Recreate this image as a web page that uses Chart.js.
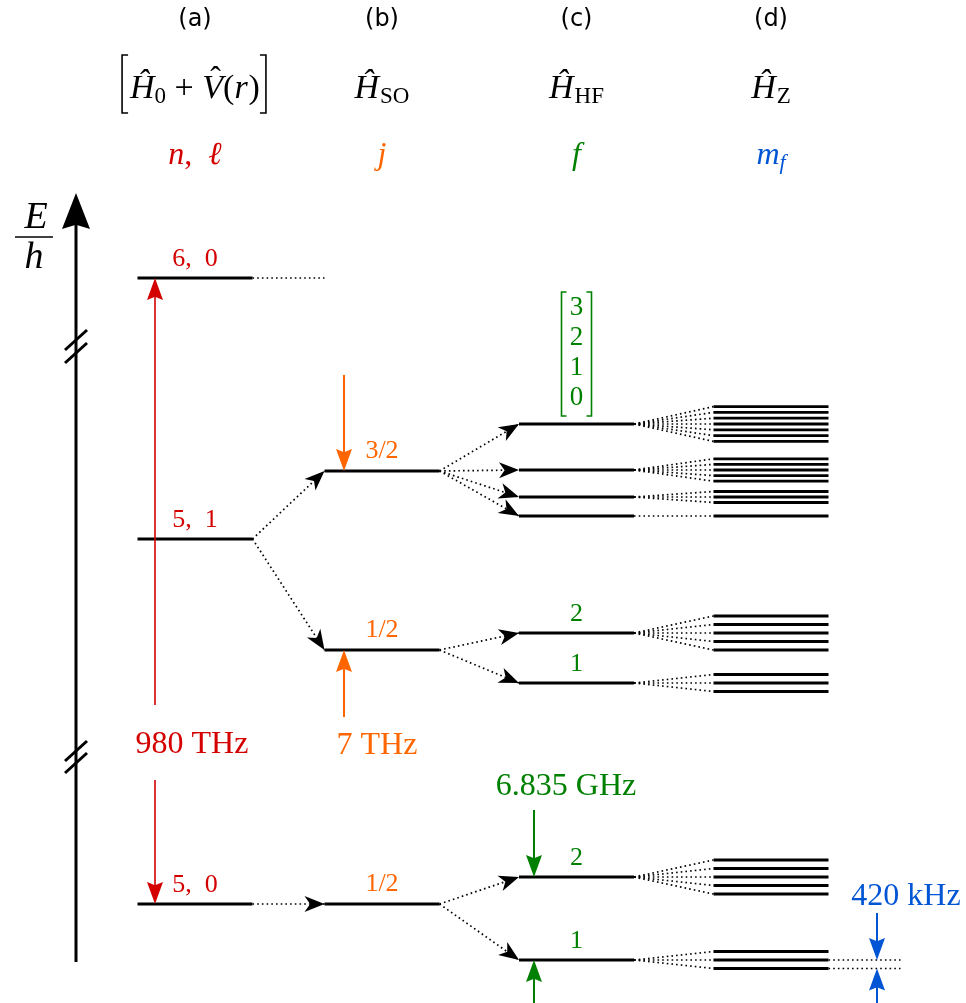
<!DOCTYPE html>
<html><head><meta charset="utf-8">
<script src="https://cdn.jsdelivr.net/npm/chart.js@4"></script>
<style>html,body{margin:0;padding:0;background:#fff}#wrap{width:966px;height:1003px;position:relative}</style>
</head><body><div id="wrap"><canvas id="c"></canvas></div>
<script>
// ---------------- data ----------------
const columnTags = ['(a)', '(b)', '(c)', '(d)'];
const nlLabels = ['6, 0', '5, 1', '5, 0'];
const nlEnergy = [725, 464, 99];
const jLabels = ['3/2', '1/2', '1/2'];
const jEnergy = [532, 353, 99];
const jParent = [1, 1, 2];
const fValues = [3, 2, 1, 0, 2, 1, 2, 1];
const fEnergy = [579, 533, 506, 487, 370, 320, 126, 43];
const fParent = [0, 0, 0, 0, 1, 1, 2, 2];
const mfSpacing = [5.8, 5.6, 5.5, 0, 8.5, 8.5, 8.5, 8.5];
const splitLabels = ['980 THz', '7 THz', '6.835 GHz', '420 kHz'];
const axisBreaks = [[663, 650], [252, 240]];

// ---------------- layout / style ----------------
const COL_X = [195, 382, 576.5, 771];
const HALF = 57.5;
const SERIF = '"Liberation Serif","DejaVu Serif",serif';
const SANS = '"DejaVu Sans",sans-serif';
const RED = '#d40000', ORANGE = '#ff6600', GREEN = '#008000', BLUE = '#0055d4';

const levelSeg = (col, e) => [{x: COL_X[col] - HALF, y: e}, {x: COL_X[col] + HALF, y: e}];
const solid = (data, w) => ({data, showLine: true, borderColor: '#000', borderWidth: w || 3, pointRadius: 0, clip: false, borderCapStyle: 'butt'});
const dotted = data => ({data, showLine: true, borderColor: '#000', borderWidth: 1.7, borderDash: [1.6, 3.1], pointRadius: 0, clip: false});

const datasets = [];
const connectors = [];
nlEnergy.forEach(e => datasets.push(solid(levelSeg(0, e))));
jEnergy.forEach(e => datasets.push(solid(levelSeg(1, e))));
fEnergy.forEach(e => datasets.push(solid(levelSeg(2, e))));
const mfLevels = [];
fValues.forEach((F, k) => {
  for (let m = F; m >= -F; m--) {
    const e = fEnergy[k] + m * mfSpacing[k];
    mfLevels.push({k, m, e});
    datasets.push(solid(levelSeg(3, e), 2.8));
  }
});
datasets.push(dotted([{x: COL_X[0] + HALF, y: nlEnergy[0]}, {x: COL_X[1] - HALF, y: nlEnergy[0]}]));
jEnergy.forEach((e, i) => {
  const p = [{x: COL_X[0] + HALF, y: nlEnergy[jParent[i]]}, {x: COL_X[1] - HALF, y: e}];
  datasets.push(dotted(p)); connectors.push(p);
});
fEnergy.forEach((e, k) => {
  const p = [{x: COL_X[1] + HALF, y: jEnergy[fParent[k]]}, {x: COL_X[2] - HALF, y: e}];
  datasets.push(dotted(p)); connectors.push(p);
});
mfLevels.forEach(l => datasets.push(dotted([{x: COL_X[2] + HALF, y: fEnergy[l.k]}, {x: COL_X[3] - HALF, y: l.e}])));
const last = fValues.length - 1;
const zeemanPair = [0, -1].map(m => fEnergy[last] + m * mfSpacing[last]);
zeemanPair.forEach(e => datasets.push(dotted([{x: COL_X[3] + HALF, y: e}, {x: COL_X[3] + HALF + 72, y: e}])));

// colored splitting arrows: x, color, label position, arrows [from, to]
const splitArrows = [
  {x: 155, color: RED, lw: 1.6, lx: 192, ly: 258, arrows: [[298, nlEnergy[0]], [223, nlEnergy[2]]]},
  {x: 344, color: ORANGE, lw: 2, lx: 377, ly: 257, arrows: [[628, jEnergy[0]], [286, jEnergy[1]]]},
  {x: 534, color: GREEN, lw: 2, lx: 566, ly: 216, arrows: [[193, fEnergy[6]], [-20, fEnergy[7]]]},
  {x: 877, color: BLUE, lw: 2, lx: 906, ly: 106, arrows: [[90, zeemanPair[0]], [-20, zeemanPair[1]]]}
];

function head(ctx, x1, y1, x2, y2, len, hw, color, indent) {
  const a = Math.atan2(y2 - y1, x2 - x1), c = Math.cos(a), s = Math.sin(a);
  ctx.save(); ctx.fillStyle = color; ctx.beginPath();
  ctx.moveTo(x2, y2);
  ctx.lineTo(x2 - len * c - hw * s, y2 - len * s + hw * c);
  ctx.lineTo(x2 - len * (1 - indent) * c, y2 - len * (1 - indent) * s);
  ctx.lineTo(x2 - len * c + hw * s, y2 - len * s - hw * c);
  ctx.closePath(); ctx.fill(); ctx.restore();
}

function drawRuns(ctx, runs, cx, base, color) {
  let w = 0;
  runs.forEach(r => { ctx.font = r.f; r.w = ctx.measureText(r.t).width + (r.k || 0); w += r.w; });
  let x = cx - w / 2;
  ctx.fillStyle = color; ctx.textAlign = 'left'; ctx.textBaseline = 'alphabetic';
  runs.forEach(r => {
    ctx.font = r.f;
    ctx.fillText(r.t, x, base + (r.dy || 0));
    if (r.hat) {
      ctx.save(); ctx.textAlign = 'center'; ctx.font = r.hat;
      ctx.fillText('\u02C6', x + r.w / 2 + 3, base - 10);
      ctx.restore();
    }
    x += r.w;
  });
  return {left: cx - w / 2, right: cx + w / 2};
}

const drawPlugin = {
  id: 'diagram',
  afterDatasetsDraw(chart) {
    const ctx = chart.ctx, X = v => chart.scales.x.getPixelForValue(v), Y = v => chart.scales.y.getPixelForValue(v);
    ctx.save();
    // connector arrowheads
    connectors.forEach(p => head(ctx, X(p[0].x), Y(p[0].y), X(p[1].x), Y(p[1].y), 20, 8, '#000', 0.28));
    // energy axis
    ctx.strokeStyle = '#000'; ctx.lineWidth = 3; ctx.lineCap = 'butt';
    ctx.beginPath(); ctx.moveTo(76, 962); ctx.lineTo(76, 215); ctx.stroke();
    head(ctx, 76, 300, 76, 193, 36, 14, '#000', 0.12);
    axisBreaks.forEach(b => b.forEach(v => {
      const y = Y(v);
      ctx.beginPath(); ctx.moveTo(65, y + 10); ctx.lineTo(87, y - 10); ctx.stroke();
    }));
    // E/h
    ctx.fillStyle = '#000'; ctx.textAlign = 'center'; ctx.textBaseline = 'alphabetic';
    ctx.font = `italic 38px ${SERIF}`;
    ctx.fillText('E', 36, 228);
    ctx.fillText('h', 34, 268);
    ctx.lineWidth = 1.6; ctx.beginPath(); ctx.moveTo(15, 237); ctx.lineTo(53, 237); ctx.stroke();
    // split arrows
    splitArrows.forEach((s, i) => {
      ctx.strokeStyle = s.color; ctx.lineWidth = s.lw;
      s.arrows.forEach(a => {
        const y1 = Y(a[0]), y2 = Y(a[1]);
        const dir = Math.sign(y2 - y1);
        ctx.beginPath(); ctx.moveTo(X(s.x), y1); ctx.lineTo(X(s.x), y2 - dir * 12); ctx.stroke();
        head(ctx, X(s.x), y1, X(s.x), y2, 22, 8, s.color, 0.15);
      });
      ctx.fillStyle = s.color; ctx.font = `32px ${SERIF}`; ctx.textAlign = 'center'; ctx.textBaseline = 'middle';
      ctx.fillText(splitLabels[i], X(s.lx), Y(s.ly));
    });
    // level labels
    ctx.textAlign = 'center'; ctx.textBaseline = 'alphabetic'; ctx.font = `26px ${SERIF}`;
    ctx.fillStyle = RED;
    nlLabels.forEach((t, i) => ctx.fillText(t.replace(', ', ',  '), X(COL_X[0]), Y(nlEnergy[i]) - 12));
    ctx.fillStyle = ORANGE;
    jLabels.forEach((t, i) => ctx.fillText(t, X(COL_X[1]), Y(jEnergy[i]) - 13));
    ctx.fillStyle = GREEN;
    const stacked = fValues.filter((f, k) => fParent[k] === 0);
    fValues.forEach((f, k) => { if (fParent[k] !== 0) ctx.fillText(String(f), X(COL_X[2]), Y(fEnergy[k]) - 12); });
    // stacked f list above the top group
    const topE = Math.max(...fEnergy.filter((e, k) => fParent[k] === 0));
    const yb = Y(topE) - 8;
    ctx.textBaseline = 'middle'; ctx.font = `27px ${SERIF}`;
    stacked.forEach((f, j) => ctx.fillText(String(f), X(COL_X[2]), yb - 18 - (stacked.length - 1 - j) * 30));
    const btop = yb - 18 - (stacked.length - 1) * 30 - 16, bbot = yb;
    ctx.strokeStyle = GREEN; ctx.lineWidth = 1.6;
    [[-15, 1], [15, -1]].forEach(([dx, d]) => {
      const xx = X(COL_X[2]) + dx;
      ctx.beginPath(); ctx.moveTo(xx + d * 5, btop); ctx.lineTo(xx, btop); ctx.lineTo(xx, bbot); ctx.lineTo(xx + d * 5, bbot); ctx.stroke();
    });
    // column tags
    ctx.fillStyle = '#000'; ctx.font = `24px ${SANS}`; ctx.textBaseline = 'middle'; ctx.textAlign = 'center';
    columnTags.forEach((t, i) => ctx.fillText(t, X(COL_X[i]), 20));
    // Hamiltonians
    const IT = `italic 34px ${SERIF}`, UP = `34px ${SERIF}`, SUB = `23px ${SERIF}`, HAT = `32px ${SERIF}`;
    const hb = 98;
    const ext = drawRuns(ctx, [
      {t: 'Ĥ', f: IT}, {t: '0', f: SUB, dy: 5}, {t: ' + ', f: UP}, {t: 'V', f: IT, hat: HAT},
      {t: '(', f: UP}, {t: 'r', f: IT, k: 1}, {t: ')', f: UP}], X(COL_X[0]), hb, '#000');
    ctx.strokeStyle = '#000'; ctx.lineWidth = 1.6;
    [[ext.left - 8, 1], [ext.right + 6, -1]].forEach(([xx, d]) => {
      ctx.beginPath(); ctx.moveTo(xx + d * 6, 55); ctx.lineTo(xx, 55); ctx.lineTo(xx, 113); ctx.lineTo(xx + d * 6, 113); ctx.stroke();
    });
    drawRuns(ctx, [{t: 'Ĥ', f: IT, k: 1}, {t: 'SO', f: SUB, dy: 5}], X(COL_X[1]), hb, '#000');
    drawRuns(ctx, [{t: 'Ĥ', f: IT, k: 1}, {t: 'HF', f: SUB, dy: 5}], X(COL_X[2]), hb, '#000');
    drawRuns(ctx, [{t: 'Ĥ', f: IT, k: 1}, {t: 'Z', f: SUB, dy: 5}], X(COL_X[3]), hb, '#000');
    // quantum numbers
    const QI = `italic 32px ${SERIF}`, QU = `32px ${SERIF}`;
    drawRuns(ctx, [{t: 'n', f: QI}, {t: ',  ', f: QU}, {t: 'ℓ', f: QI}], X(COL_X[0]), 164, RED);
    drawRuns(ctx, [{t: 'j', f: QI}], X(COL_X[1]), 164, ORANGE);
    drawRuns(ctx, [{t: 'f', f: QI}], X(COL_X[2]), 164, GREEN);
    drawRuns(ctx, [{t: 'm', f: QI}, {t: 'f', f: `italic 22px ${SERIF}`, dy: 5}], X(COL_X[3]), 164, BLUE);
    ctx.restore();
  }
};

new Chart(document.getElementById('c'), {
  type: 'scatter',
  data: {datasets},
  options: {
    responsive: true, maintainAspectRatio: false, animation: false,
    layout: {padding: 0},
    plugins: {legend: {display: false}, tooltip: {enabled: false}},
    scales: {
      x: {type: 'linear', min: 0, max: 966, display: false},
      y: {type: 'linear', min: 0, max: 1003, display: false}
    },
    elements: {point: {radius: 0}}
  },
  plugins: [drawPlugin]
});
</script>
</body></html>
